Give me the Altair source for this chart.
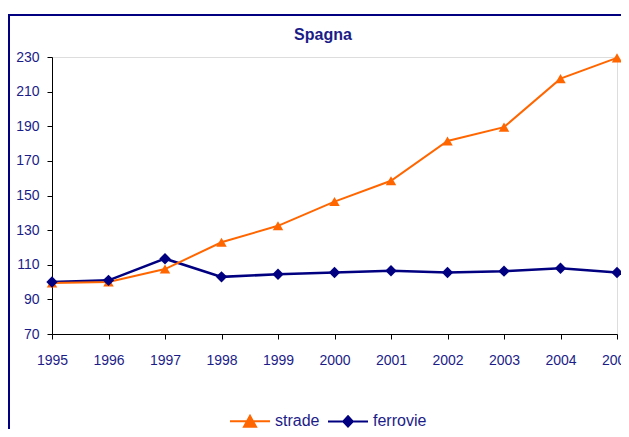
import altair as alt
import pandas as pd

years = [1995, 1996, 1997, 1998, 1999, 2000, 2001, 2002, 2003, 2004, 2005]
strade = [99.5, 100, 107.5, 123, 132.5, 146.5, 158.5, 181.5, 189.5, 217.5, 229.5]
ferrovie = [100, 101, 113.5, 103, 104.5, 105.5, 106.5, 105.5, 106.3, 108, 105.5]
series = ["strade", "ferrovie"]
colors = ["#FF6600", "#000080"]
y_ticks = [70, 90, 110, 130, 150, 170, 190, 210, 230]
title_text = ["Spagna"]

FONT = "Liberation Sans, Arial, sans-serif"
TXT = "#1c1c88"

rows = []
for name, vals in zip(series, [strade, ferrovie]):
    for yr, v in zip(years, vals):
        rows.append({"anno": yr, "valore": v, "serie": name})
df = pd.DataFrame(rows)

x_enc = alt.X("anno:Q", scale=alt.Scale(domain=[years[0], years[-1]], nice=False, zero=False),
              axis=alt.Axis(values=years, format="d", title=None, grid=False,
                            labelFont=FONT, labelFontSize=14, labelColor=TXT,
                            domainColor="black", tickColor="black", tickSize=5,
                            labelPadding=14, labelFlush=False))
y_enc = alt.Y("valore:Q", scale=alt.Scale(domain=[70, 230], nice=False, zero=False),
              axis=alt.Axis(values=y_ticks, title=None, grid=False,
                            labelFont=FONT, labelFontSize=14, labelColor=TXT,
                            domainColor="black", tickColor="black", tickSize=5,
                            labelPadding=8))

base = alt.Chart(df)

line_s = base.transform_filter(alt.datum.serie == "strade").mark_line(
    color=colors[0], strokeWidth=2).encode(x=x_enc, y=y_enc)
line_f = base.transform_filter(alt.datum.serie == "ferrovie").mark_line(
    color=colors[1], strokeWidth=2.5).encode(x=x_enc, y=y_enc)
pts_s = base.transform_filter(alt.datum.serie == "strade").mark_point(
    shape="triangle-up", filled=True, size=110, color=colors[0], opacity=1).encode(x=x_enc, y=y_enc)
pts_f = base.transform_filter(alt.datum.serie == "ferrovie").mark_point(
    shape="diamond", filled=True, size=130, color=colors[1], opacity=1).encode(x=x_enc, y=y_enc)

tri_path = "M-1,0H1M-0.3,0.27L0,-0.27L0.3,0.27Z"
dia_path = "M-1,0H1M0,-0.26L0.24,0L0,0.26L-0.24,0Z"
leg = alt.Legend(title=None, orient="none", legendX=177, legendY=343,
                 direction="horizontal", symbolSize=1600,
                 symbolOpacity=1, symbolStrokeWidth=2,
                 labelFont=FONT, labelFontSize=16, labelColor=TXT,
                 labelOffset=4, columnPadding=4)
legend_layer = base.mark_point(filled=True, opacity=0).encode(
    x=x_enc, y=y_enc,
    shape=alt.Shape("serie:N", scale=alt.Scale(domain=series, range=[tri_path, dia_path]), legend=leg),
    color=alt.Color("serie:N", scale=alt.Scale(domain=series, range=colors), legend=leg),
    stroke=alt.Stroke("serie:N", scale=alt.Scale(domain=series, range=colors), legend=leg),
)

frame_df = pd.DataFrame({"a": [0]})
border_top = alt.Chart(frame_df).mark_rule(color="#000080", strokeWidth=2).encode(
    x=alt.value(-44), x2=alt.value(700), y=alt.value(-42))
border_left = alt.Chart(frame_df).mark_rule(color="#000080", strokeWidth=2).encode(
    x=alt.value(-43), y=alt.value(-43), y2=alt.value(500))

title = alt.Chart(pd.DataFrame({"t": title_text})).mark_text(
    font=FONT, fontSize=16, fontWeight="bold", color=TXT, align="center", baseline="alphabetic"
).encode(text="t:N", x=alt.value(271), y=alt.value(-17))

chart = alt.layer(border_top, border_left, title, line_f, line_s, pts_s, pts_f, legend_layer).properties(
    width=565, height=277,
    padding={"left": 44, "top": 49, "right": 4, "bottom": 95},
    autosize=alt.AutoSizeParams(type="none"),
).configure_view(stroke=None).configure(background="white")

chart.save("out.html", embed_options={"renderer": "svg", "actions": False})
